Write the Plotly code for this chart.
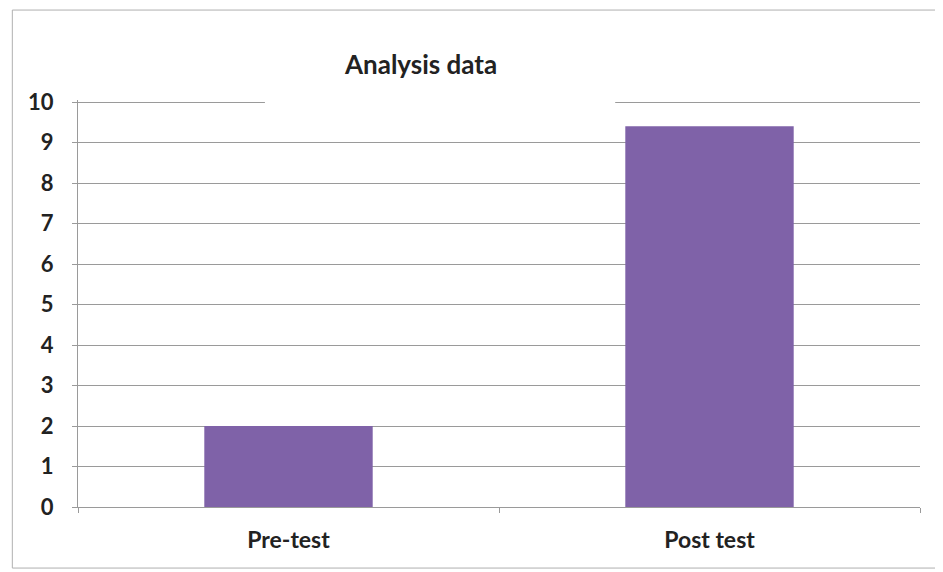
import plotly.graph_objects as go

categories = ["Pre-test", "Post test"]
scores = [2.0, 9.4]
y_ticks = list(range(0, 11))

PURPLE = "#7F62A8"
GRID = "#9a9a9a"
TEXT = "#222222"
FONT = "Lato"

fig = go.Figure()
fig.add_trace(go.Bar(
    x=categories,
    y=scores,
    marker=dict(color=PURPLE, line=dict(width=0)),
    hoverinfo="x+y",
))

fig.update_layout(
    width=943, height=572,
    margin=dict(l=70, r=31, t=92, b=73),
    paper_bgcolor="white",
    plot_bgcolor="white",
    bargap=0.6,
    showlegend=False,
    font=dict(family=FONT, color=TEXT),
    annotations=[dict(
        text="Analysis data",
        x=0.407, y=1.0, xref="paper", yref="paper",
        yanchor="middle", yshift=36, showarrow=False,
        font=dict(family=FONT, size=26, color=TEXT, weight="bold"),
    )],
    shapes=[
        # title box hides part of the top gridline, as in the original
        dict(type="rect", xref="paper", yref="y",
             x0=0.222, x1=0.638, y0=9.9, y1=10.05,
             fillcolor="white", line=dict(width=0), layer="above"),
        # chart frame
        dict(type="rect", xref="paper", yref="paper",
             x0=-0.078, x1=1.0238, y0=-0.15, y1=1.221,
             line=dict(color="#b0b0b0", width=1), fillcolor="rgba(0,0,0,0)"),
    ],
)

fig.update_yaxes(
    range=[0, 10.05],
    tickvals=y_ticks,
    ticks="outside", ticklen=5, tickcolor=GRID,
    showgrid=True, gridcolor=GRID, gridwidth=1,
    showline=True, linecolor=GRID, linewidth=1,
    zeroline=False,
    tickfont=dict(family=FONT, size=22, color=TEXT, weight="bold"),
    ticklabelstandoff=14,
)
fig.update_xaxes(
    ticks="outside", tickson="boundaries", ticklen=5, tickcolor=GRID,
    showline=True, linecolor=GRID, linewidth=1,
    tickfont=dict(family=FONT, size=23, color=TEXT, weight="bold"),
    ticklabelstandoff=12,
)

fig.write_html("out.html")
